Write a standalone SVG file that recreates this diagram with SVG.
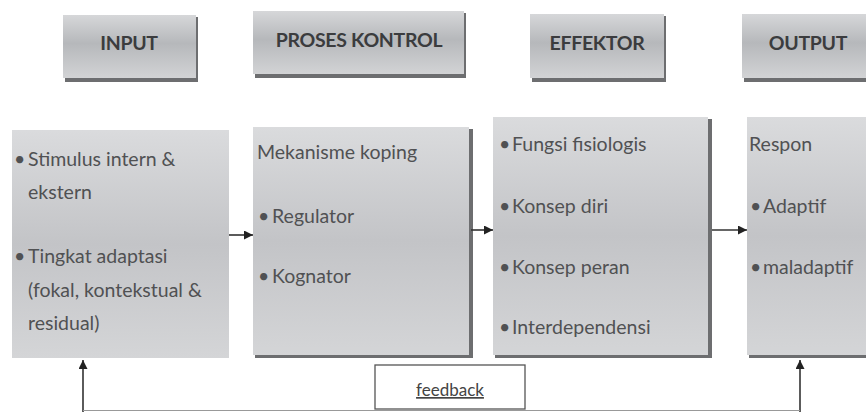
<svg xmlns="http://www.w3.org/2000/svg" width="866" height="412" viewBox="0 0 866 412">
<defs>
<linearGradient id="hdr" x1="0" y1="0" x2="0" y2="1">
<stop offset="0" stop-color="#d6d7d9"/>
<stop offset="0.45" stop-color="#b6b8bb"/>
<stop offset="1" stop-color="#d2d3d5"/>
</linearGradient>
<linearGradient id="body" x1="0" y1="0" x2="0" y2="1">
<stop offset="0" stop-color="#dadbdd"/>
<stop offset="0.5" stop-color="#c3c4c7"/>
<stop offset="1" stop-color="#d4d5d7"/>
</linearGradient>
<marker id="ah" viewBox="0 0 10 10" refX="10" refY="5" markerWidth="9" markerHeight="9" markerUnits="userSpaceOnUse" orient="auto">
<path d="M0,0 L10,5 L0,10 z" fill="#222"/>
</marker>
</defs>
<style>
.shadow{fill:#6d6e70}
.hbox{fill:url(#hdr)}
.bbox{fill:url(#body)}
.ht{font-family:Lato,"Liberation Sans",sans-serif;font-weight:bold;font-size:19.5px;fill:#3b3c3e;text-anchor:middle;letter-spacing:-0.3px}
.bt{font-family:Lato,"Liberation Sans",sans-serif;font-size:19.5px;fill:#505153}
.conn{stroke:#333;stroke-width:1.6;fill:none}
.fb{fill:#fff;stroke:#555;stroke-width:1.3}
.fbt{font-family:Lato,"Liberation Sans",sans-serif;font-size:17px;fill:#444;text-anchor:middle;text-decoration:underline}
</style>

<g id="hdr-input">
<rect class="shadow" x="65" y="17" width="133" height="65"/>
<rect class="hbox" x="63" y="15" width="133" height="63"/>
<text class="ht" x="129" y="50">INPUT</text>
</g>
<g id="hdr-proses">
<rect class="shadow" x="255" y="13" width="211" height="65"/>
<rect class="hbox" x="253" y="11" width="211" height="63"/>
<text class="ht" x="359" y="47">PROSES KONTROL</text>
</g>
<g id="hdr-effektor">
<rect class="shadow" x="532" y="16" width="134" height="66"/>
<rect class="hbox" x="530" y="14" width="134" height="64"/>
<text class="ht" x="597" y="50">EFFEKTOR</text>
</g>
<g id="hdr-output">
<rect class="shadow" x="744" y="16" width="124" height="66"/>
<rect class="hbox" x="742" y="14" width="124" height="64"/>
<text class="ht" x="808" y="50">OUTPUT</text>
</g>

<g id="box-input">
<rect class="bbox" x="12" y="130" width="217" height="228"/>
<text class="bt" x="14" y="166">•</text>
<text class="bt" x="28" y="166">Stimulus intern &amp;</text>
<text class="bt" x="28" y="199">ekstern</text>
<text class="bt" x="14" y="263">•</text>
<text class="bt" x="28" y="263">Tingkat adaptasi</text>
<text class="bt" x="28" y="297">(fokal, kontekstual &amp;</text>
<text class="bt" x="28" y="330">residual)</text>
</g>
<g id="box-proses">
<rect class="shadow" x="255" y="129" width="218" height="229"/>
<rect class="bbox" x="253" y="127" width="216" height="228"/>
<text class="bt" x="257" y="159">Mekanisme koping</text>
<text class="bt" x="258" y="223">•</text>
<text class="bt" x="272" y="223">Regulator</text>
<text class="bt" x="258" y="283">•</text>
<text class="bt" x="272" y="283">Kognator</text>
</g>
<g id="box-effektor">
<rect class="shadow" x="495" y="119" width="217" height="239"/>
<rect class="bbox" x="493" y="117" width="215" height="238"/>
<text class="bt" x="499" y="151">•</text>
<text class="bt" x="512" y="151">Fungsi fisiologis</text>
<text class="bt" x="499" y="213">•</text>
<text class="bt" x="512" y="213">Konsep diri</text>
<text class="bt" x="499" y="274">•</text>
<text class="bt" x="512" y="274">Konsep peran</text>
<text class="bt" x="499" y="334">•</text>
<text class="bt" x="512" y="334">Interdependensi</text>
</g>
<g id="box-output">
<rect class="shadow" x="749" y="119" width="119" height="239"/>
<rect class="bbox" x="747" y="117" width="119" height="238"/>
<text class="bt" x="749" y="151">Respon</text>
<text class="bt" x="750" y="213">•</text>
<text class="bt" x="763" y="213">Adaptif</text>
<text class="bt" x="750" y="274">•</text>
<text class="bt" x="763" y="274">maladaptif</text>
</g>

<g id="connectors">
<line class="conn" x1="229" y1="235" x2="253" y2="235" marker-end="url(#ah)"/>
<line class="conn" x1="471" y1="230" x2="493" y2="230" marker-end="url(#ah)"/>
<line class="conn" x1="712" y1="230" x2="747" y2="230" marker-end="url(#ah)"/>
<polyline class="conn" points="83,412 83,360"  marker-end="url(#ah)"/>
<polyline class="conn" points="800,412 800,360" marker-end="url(#ah)"/>
<line x1="83" y1="410.5" x2="800" y2="410.5" stroke="#999" stroke-width="1"/>
</g>

<g id="feedback">
<rect class="fb" x="375" y="365" width="150" height="44"/>
<text class="fbt" x="450" y="396">feedback</text>
</g>
</svg>
